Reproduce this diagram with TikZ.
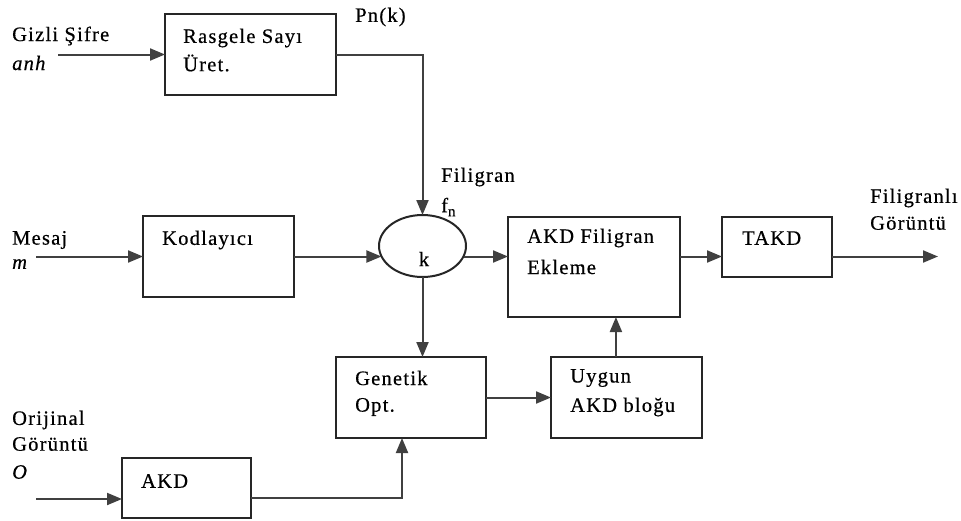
\documentclass[tikz,border=0pt]{standalone}
\usepackage{fontspec}
\setmainfont{Liberation Serif}[LetterSpace=6,FakeBold=0.5]
\usetikzlibrary{arrows.meta,calc,shapes.geometric}
\begin{document}
\begin{tikzpicture}[x=1pt,y=-1pt,
  blk/.style={draw=black!85,line width=2pt,inner sep=0pt,outer sep=0pt},
  lbl/.style={anchor=west,inner sep=0pt,font=\fontsize{20.5}{23}\selectfont},
  conn/.style={draw=black!75,line width=2pt,-{Triangle[length=15pt,width=12pt]}}]
\useasboundingbox[fill=white] (0,0) rectangle (961,520);
% boxes
\node[blk,minimum width=171pt,minimum height=81pt] (ras) at (250.5,54.5) {};
\node[blk,minimum width=151pt,minimum height=81pt] (kod) at (218.5,256.5) {};
\node[blk,ellipse,minimum width=87pt,minimum height=62pt] (el) at (422.5,246) {};
\node[blk,minimum width=172pt,minimum height=100pt] (ekl) at (594,267) {};
\node[blk,minimum width=110pt,minimum height=60pt] (takd) at (777,247) {};
\node[blk,minimum width=150pt,minimum height=81pt] (gen) at (411,397.5) {};
\node[blk,minimum width=151pt,minimum height=81pt] (uyg) at (626.5,397.5) {};
\node[blk,minimum width=129pt,minimum height=60pt] (akd) at (186.5,488) {};
% labels
\node[lbl] (t1) at (12,36) {Gizli Şifre};
\node[lbl] (t2) at (12,63) {\itshape anh};
\node[lbl] (t3) at (183,38) {Rasgele Sayı};
\node[lbl] (t4) at (183,63) {Üret.};
\node[lbl] (t5) at (355,17) {Pn(k)};
\node[lbl] (t6) at (441,177) {Filigran};
\node[lbl] (t7) at (441,207) {f\raisebox{-4pt}{\fontsize{15}{15}\selectfont n}};
\node[lbl] (t8) at (12,240) {Mesaj};
\node[lbl] (t9) at (12,264) {\itshape m};
\node[lbl] (t10) at (162,240) {Kodlayıcı};
\node[lbl,anchor=center] (t11) at (424,259) {k};
\node[lbl] (t12) at (527,238) {AKD Filigran};
\node[lbl] (t13) at (527,267) {Ekleme};
\node[lbl] (t14) at (742,238) {TAKD};
\node[lbl] (t15) at (870,198) {Filigranlı};
\node[lbl] (t16) at (870,223) {Görüntü};
\node[lbl] (t17) at (355,378) {Genetik};
\node[lbl] (t18) at (355,407) {Opt.};
\node[lbl] (t19) at (570,378) {Uygun};
\node[lbl] (t20) at (570,407) {AKD bloğu};
\node[lbl] (t21) at (12,420) {Orijinal};
\node[lbl] (t22) at (12,444) {Görüntü};
\node[lbl] (t23) at (12,472) {\itshape O};
\node[lbl] (t24) at (141,481) {AKD};
% free ends
\coordinate (inA) at (58,54.5);
\coordinate (inB) at (36,256.5);
\coordinate (inC) at (36,499);
\coordinate (out) at (938,256.5);
% connectors
\draw[conn] (inA) -- (ras.west);
\draw[conn] (inB) -- (kod.west);
\draw[conn] (ras.east) -| (el.north);
\draw[conn] (kod.east) -- (kod.east -| el.194.4);
\draw[conn] (el.-14.4 |- kod.east) -- (kod.east -| ekl.west);
\draw[conn] (kod.east -| ekl.east) -- (kod.east -| takd.west);
\draw[conn] (kod.east -| takd.east) -- (out);
\draw[conn] (el.south) -- (el.south |- gen.north);
\draw[conn] (gen.east) -- (uyg.west);
\coordinate (up) at ($(uyg.north west)!0.43!(uyg.north east)$);
\draw[conn] (up) -- (up |- ekl.south);
\coordinate (ao) at ($(akd.south east)!0.33!(akd.north east)$);
\draw[conn] (inC) -- (inC -| akd.west);
\coordinate (gi) at ($(gen.south west)!0.44!(gen.south east)$);
\draw[conn] (ao) -| (gi);
\end{tikzpicture}
\end{document}
